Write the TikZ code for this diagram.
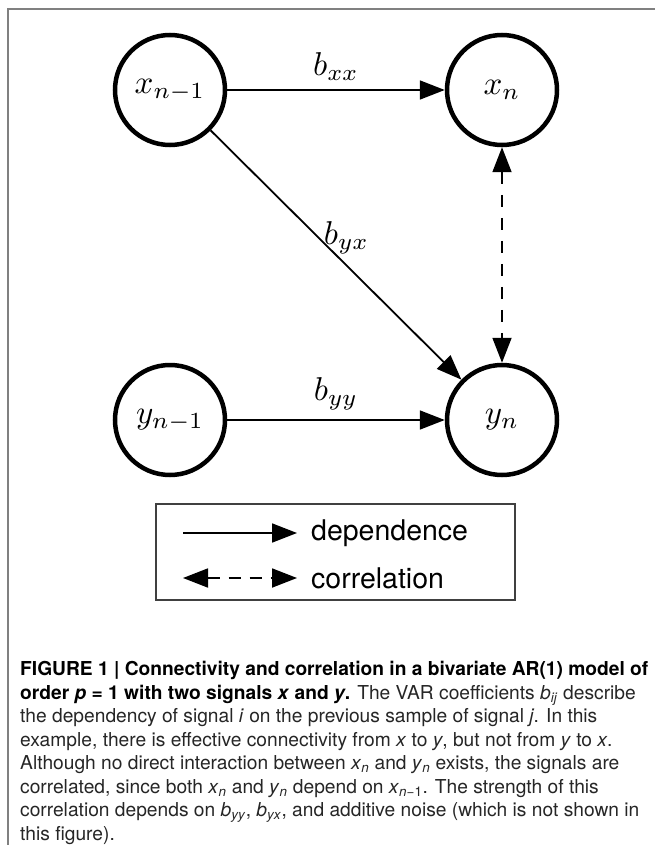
\documentclass[tikz,border=0pt]{standalone}
\usepackage{fontspec}
\newfontfamily\helv{TeX Gyre Heros}
\usetikzlibrary{arrows.meta}
\newcommand\mlbl[1]{\scalebox{3.3}{$#1$}}
\newcommand\isub[2]{\textit{#1}\textsubscript{\textit{#2}}}
\begin{document}
\begin{tikzpicture}[x=1pt,y=-1pt,
  var/.style={circle,draw,line width=4.5pt,minimum size=110pt,inner sep=0pt},
  tip/.tip={Triangle[length=25pt,width=19pt]},
  dep/.style={line width=1.8pt,-tip},
  cor/.style={line width=1.8pt,dash pattern=on 12pt off 11pt,tip-tip},
  coef/.style={inner sep=3pt},
  frameline/.style={draw=gray,line width=1.5pt},
  legtext/.style={anchor=west,inner sep=0pt,font=\helv\fontsize{28.5}{32}\selectfont},
  captext/.style={anchor=north west,inner sep=0pt,align=left,text=black!85,font=\helv\fontsize{19.2}{23.5}\selectfont}]
\useasboundingbox (0,0) rectangle (655,845);
\fill[white] (0,0) rectangle (655,845);
\draw[frameline] (8,845) -- (8,9) -- (655,9);
% variables
\node[var] (xp) at (170,90) {\mlbl{x_{n-1}}};
\node[var] (xn) at (502,90) {\mlbl{x_n}};
\node[var] (yp) at (170,420) {\mlbl{y_{n-1}}};
\node[var] (yn) at (502,420) {\mlbl{y_n}};
% connectors
\draw[dep] (xp) -- node[coef,above,yshift=6pt] {\mlbl{b_{xx}}} (xn);
\draw[dep] (xp) -- node[coef,above right,pos=0.5,xshift=-16pt,yshift=-3pt] {\mlbl{b_{yx}}} (yn);
\draw[dep] (yp) -- node[coef,above,yshift=6pt] {\mlbl{b_{yy}}} (yn);
\draw[cor] (xn) -- (yn);
% legend
\node[draw=black!75,line width=1.3pt,minimum width=359pt,minimum height=96pt,inner sep=0pt] (legend) at (335.5,552) {};
\coordinate (d1) at (183,533);
\coordinate (d2) at (297,533);
\coordinate (c1) at (183,578);
\coordinate (c2) at (297,578);
\draw[dep] (d1) -- (d2);
\draw[cor,dash pattern=on 12pt off 9pt] (c1) -- (c2);
\node[legtext] (ldep) at (311,533) {dependence};
\node[legtext] (lcor) at (311,578) {correlation};
% caption
\node[captext] (cap) at (20,661)
{\textcolor{black}{\textbf{FIGURE 1 | Connectivity and correlation in a bivariate AR(1) model of}}\\
\textcolor{black}{\textbf{order \textit{p} = 1 with two signals \textit{x} and \textit{y}.}} The VAR coefficients \isub{b}{ij} describe\\
the dependency of signal \textit{i} on the previous sample of signal \textit{j}. In this\\
example, there is effective connectivity from \textit{x} to \textit{y}, but not from \textit{y} to \textit{x}.\\
Although no direct interaction between \isub{x}{n} and \isub{y}{n} exists, the signals are\\
correlated, since both \isub{x}{n} and \isub{y}{n} depend on \textit{x}\textsubscript{\textit{n}−1}. The strength of this\\
correlation depends on \isub{b}{yy}, \isub{b}{yx}, and additive noise (which is not shown in\\
this figure).};
\end{tikzpicture}
\end{document}
